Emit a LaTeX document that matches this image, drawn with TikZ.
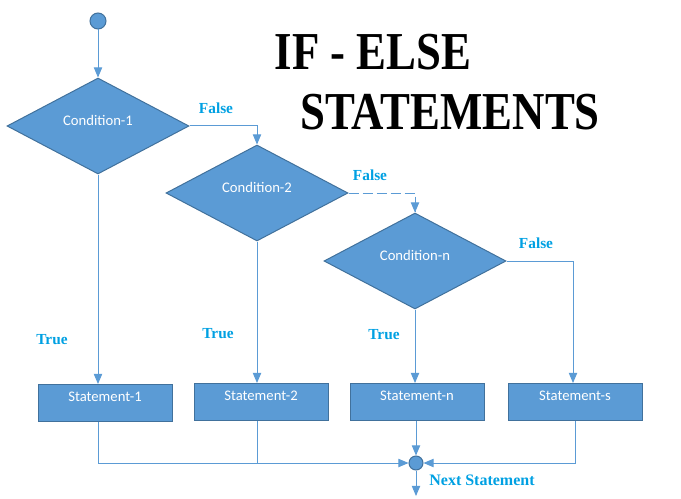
\documentclass[tikz,border=0pt]{standalone}
\usepackage{fontspec}
\setmainfont{Carlito}
\newfontfamily\lblfont{Liberation Serif}
\newfontfamily\ttlfont[FakeStretch=0.84]{Liberation Serif}
\usepackage{tikz}
\usetikzlibrary{positioning,shapes,arrows}
\definecolor{flowblue}{RGB}{91,155,213}
\definecolor{flowedge}{RGB}{65,113,156}
\definecolor{lblblue}{RGB}{0,160,226}
\tikzstyle{cond}=[%
      diamond, draw=flowedge, fill=flowblue, text=white, inner sep=0pt, text depth=9pt,
      minimum width=136.5pt, minimum height=72pt, font=\fontsize{11}{13}\selectfont
]
\tikzstyle{stmt}=[%
      rectangle, draw=flowedge, fill=flowblue, text=white, inner sep=0pt, text depth=9.5pt,
      minimum width=100.5pt, minimum height=27.75pt, font=\fontsize{11}{13}\selectfont
]
\tikzstyle{endpt}=[%
      circle, draw=flowedge, fill=flowblue, inner sep=0pt
]
\tikzstyle{lbl}=[%
      draw=none, text=lblblue, inner sep=0pt, font=\lblfont\bfseries\fontsize{11.5}{13}\selectfont
]
\tikzstyle{ttl}=[%
      draw=none, inner sep=0pt, font=\ttlfont\bfseries\fontsize{40}{44}\selectfont
]

\begin{document}
\begin{tikzpicture}[x=0.75pt, y=-0.75pt,
    >=triangle 45,
    line width=0.75pt,
    conn/.style={draw=flowblue, ->},
]
    \useasboundingbox (0,0) rectangle (681,499);
    \node[endpt, minimum size=12pt] (start) at (98,21) {};
    \node[cond]  (c1) at (98,126)  {Condition-1};
    \node[cond]  (c2) at (257,193) {Condition-2};
    \node[cond]  (cn) at (415,261) {Condition-n};
    \node[stmt]  (s1) at (105,403) {Statement-1};
    \node[stmt]  (s2) at (261,402) {Statement-2};
    \node[stmt]  (sn) at (417,402) {Statement-n};
    \node[stmt]  (ss) at (575,402) {Statement-s};
    \node[endpt, minimum size=10.5pt] (join) at (416,463) {};
    \coordinate (out) at (416,496);
    \coordinate (ssin) at (573,0);

    \node[ttl] (t1) at (373,52)  {IF - ELSE};
    \node[ttl] (t2) at (450,112) {STATEMENTS};

    \node[lbl] (f1) at (216,108) {False};
    \node[lbl] (f2) at (370,175) {False};
    \node[lbl] (f3) at (536,243) {False};
    \node[lbl] (tr1) at (52,340)  {True};
    \node[lbl] (tr2) at (218,334) {True};
    \node[lbl] (tr3) at (384,335) {True};
    \node[lbl, font=\lblfont\bfseries\fontsize{12}{14}\selectfont] (nx) at (482,480) {Next Statement};

    \draw[conn] (start) -- (c1);
    \draw[conn] (c1.east) -| (c2.north);
    \draw[conn, dash pattern=on 7.5pt off 3pt] (c2.east) -| (cn.north);
    \draw[conn] (cn.east) -| (ssin |- ss.north);
    \draw[conn] (c1.south) -- (c1.south |- s1.north);
    \draw[conn] (c2.south) -- (c2.south |- s2.north);
    \draw[conn] (cn.south) -- (cn.south |- sn.north);

    \draw[conn] (c1.south |- s1.south) |- (join.west);
    \draw[conn, -] (c2.south |- s2.south) -- (c2.south |- join);
    \draw[conn] (join.north |- sn.south) -- (join.north);
    \draw[conn] (ss.south) |- (join.east);
    \draw[conn] (join) -- (out);
\end{tikzpicture}
\end{document}
